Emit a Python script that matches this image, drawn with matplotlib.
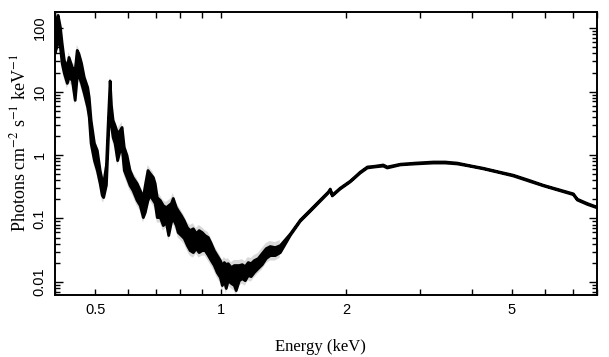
import numpy as np
import matplotlib
matplotlib.use("Agg")
import matplotlib.pyplot as plt
from matplotlib.ticker import FixedLocator, NullFormatter, LogLocator

# spectrum: energy (keV), upper / lower edge of the data band
energy = [0.399, 0.404, 0.406, 0.411, 0.415, 0.420, 0.427, 0.431, 0.439, 0.446,
          0.451, 0.455, 0.462, 0.469, 0.478, 0.482, 0.487, 0.496, 0.504, 0.512,
          0.518, 0.522, 0.530, 0.535, 0.541, 0.545, 0.550, 0.556, 0.564, 0.572,
          0.578, 0.585, 0.594, 0.604, 0.614, 0.628, 0.639, 0.650, 0.657, 0.667,
          0.675, 0.687, 0.694, 0.702, 0.714, 0.726, 0.738, 0.748, 0.759, 0.767,
          0.780, 0.788, 0.802, 0.815, 0.829, 0.842, 0.857, 0.871, 0.885, 0.900,
          0.915, 0.931, 0.946, 0.962, 0.978, 0.995, 1.006, 1.017, 1.028, 1.039,
          1.057, 1.075, 1.086, 1.105, 1.123, 1.142, 1.161, 1.180, 1.200, 1.227,
          1.254, 1.282, 1.311, 1.348, 1.386,
          1.465, 1.548, 1.636, 1.729, 1.807, 1.827, 1.847, 1.931, 2.040, 2.157,
          2.242, 2.343, 2.449, 2.503, 2.691, 2.923, 3.228, 3.450, 3.687, 3.962,
          4.257, 4.676, 5.024, 5.521, 5.931, 6.338, 6.771, 7.000, 7.157, 7.566,
          7.995]

flux_hi = [135, 150, 162, 105, 58.6, 31.6, 24.5, 35.2, 24.5, 22.0,
           45.4, 40.7, 28.3, 17.0, 11.8, 8.2, 3.6, 1.55, 1.20, 0.58,
           0.40, 0.36, 0.70, 3.0, 15.0, 6.15, 3.57, 2.97, 2.22, 2.48,
           2.77, 1.34, 1.0, 0.58, 0.45, 0.361, 0.28, 0.217, 0.336, 0.58,
           0.52, 0.45, 0.361, 0.217, 0.195, 0.162, 0.151, 0.162, 0.175, 0.21,
           0.151, 0.135, 0.113, 0.094, 0.073, 0.0655, 0.070, 0.0587, 0.0655, 0.061,
           0.0546, 0.0508, 0.041, 0.0316, 0.0264, 0.022, 0.0184, 0.0205, 0.019, 0.0197,
           0.0171, 0.0184, 0.0184, 0.0184, 0.019, 0.0177, 0.0205, 0.0197, 0.022, 0.0237,
           0.0284, 0.034, 0.0367, 0.0353, 0.038,
           0.058, 0.096, 0.138, 0.199, 0.266, 0.296, 0.238, 0.307, 0.395, 0.55,
           0.66, 0.68, 0.71, 0.66, 0.73, 0.76, 0.79, 0.79, 0.76, 0.69,
           0.63, 0.545, 0.49, 0.40, 0.34, 0.30, 0.265, 0.249, 0.205, 0.175,
           0.153]

flux_lo = [40.7, 54, 94, 50.7, 28.3, 19.7, 13.7, 17.0, 15.3, 7.4,
           17.0, 18.3, 13.7, 9.5, 5.7, 4.0, 1.55, 0.83, 0.58, 0.36,
           0.234, 0.217, 0.34, 1.44, 8.0, 2.97, 1.92, 1.55, 0.83, 1.20,
           1.34, 0.58, 0.45, 0.336, 0.28, 0.195, 0.162, 0.105, 0.126, 0.195,
           0.234, 0.195, 0.175, 0.105, 0.105, 0.0785, 0.0876, 0.0547, 0.0876, 0.10,
           0.0785, 0.061, 0.0546, 0.049, 0.038, 0.0316, 0.0294, 0.034, 0.0294, 0.0316,
           0.0316, 0.0264, 0.022, 0.0184, 0.0142, 0.0119, 0.0089, 0.0106, 0.0080, 0.0106,
           0.0096, 0.0089, 0.0074, 0.0106, 0.0114, 0.0106, 0.0128, 0.0123, 0.0142, 0.0165,
           0.019, 0.0237, 0.0264, 0.0264, 0.0294,
           0.055, 0.092, 0.132, 0.191, 0.256, 0.285, 0.230, 0.297, 0.383, 0.53,
           0.635, 0.66, 0.68, 0.635, 0.71, 0.735, 0.76, 0.76, 0.735, 0.675,
           0.615, 0.532, 0.475, 0.387, 0.332, 0.292, 0.257, 0.241, 0.198, 0.169,
           0.149]

x_ticks = [0.5, 1, 2, 5]
x_labels = ["0.5", "1", "2", "5"]
y_ticks = [0.01, 0.1, 1, 10, 100]
y_labels = ["0.01", "0.1", "1", "10", "100"]

plt.rcParams['font.family'] = ['Liberation Sans', 'DejaVu Sans']

fig = plt.figure(figsize=(6.09, 3.57), dpi=100)
ax = fig.add_axes([55 / 609, 1 - 295 / 357, 542 / 609, 283 / 357])

E = np.array(energy)
hi = np.array(flux_hi)
lo = np.array(flux_lo)
noisy = E < 1.4

# faint error whiskers around the noisy soft part
ax.fill_between(E[noisy], lo[noisy] * 0.82, hi[noisy] * 1.2,
                facecolor='0.85', edgecolor='none', zorder=1)
ax.fill_between(E, lo, hi, facecolor='black', edgecolor='black',
                linewidth=2.0, zorder=2)

ax.set_xscale('log')
ax.set_yscale('log')
ax.set_xlim(0.4, 8.0)
ax.set_ylim(0.0062, 180)

ax.xaxis.set_major_locator(FixedLocator(x_ticks))
ax.set_xticklabels(x_labels)
ax.xaxis.set_minor_locator(FixedLocator([0.4, 0.6, 0.7, 0.8, 0.9, 3, 4, 6, 7, 8]))
ax.xaxis.set_minor_formatter(NullFormatter())
ax.yaxis.set_major_locator(FixedLocator(y_ticks))
ax.set_yticklabels(y_labels, rotation=90, va='center')
ax.yaxis.set_minor_locator(LogLocator(base=10, subs=np.arange(2, 10)))
ax.yaxis.set_minor_formatter(NullFormatter())

ax.tick_params(which='both', direction='in', top=True, right=True,
               labelsize=10.5, width=1.0, pad=6)
ax.tick_params(axis='y', which='major', length=6)
ax.tick_params(axis='y', which='minor', length=3.5)
ax.tick_params(axis='x', which='both', length=4)
for s in ax.spines.values():
    s.set_linewidth(1.4)

fig.text(19 / 609, 1 - 143 / 357, r"Photons cm$^{-2}$ s$^{-1}$ keV$^{-1}$",
         rotation=90, ha='center', va='center', fontsize=13,
         family='Liberation Serif', math_fontfamily='stix')
fig.text(320 / 609, 1 - 347 / 357, "Energy (keV)", ha='center', va='center',
         fontsize=12, family='Liberation Serif')

fig.savefig("out.png", dpi=100)
